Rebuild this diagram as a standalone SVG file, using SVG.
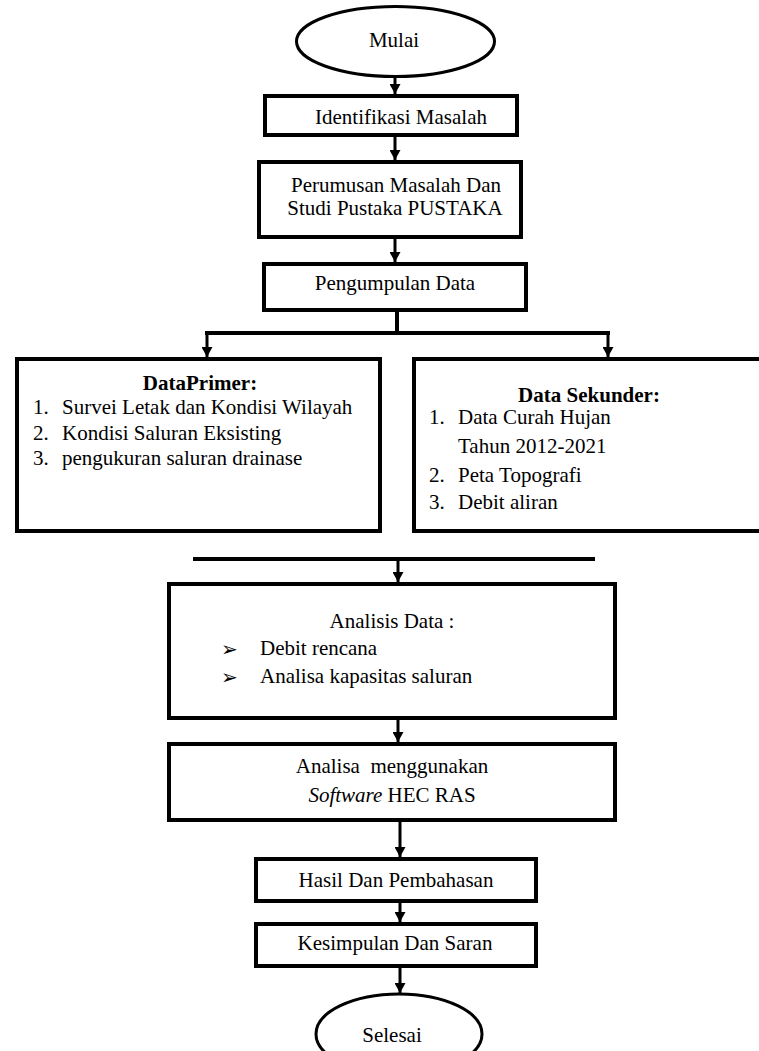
<svg xmlns="http://www.w3.org/2000/svg" width="759" height="1051" viewBox="0 0 759 1051">
<defs>
<marker id="ah" markerUnits="userSpaceOnUse" markerWidth="11" markerHeight="11" refX="10" refY="5.5" orient="auto">
<path d="M0,0 L10,5.5 L0,11 z" fill="#000"/>
</marker>
<style>
.box{fill:#fff;stroke:#000;stroke-width:4}
.ell{fill:#fff;stroke:#000;stroke-width:3}
.t{font-family:"Liberation Serif","Times New Roman",Times,"DejaVu Serif",serif;font-size:21px;font-weight:normal;fill:#000}
.c{text-anchor:middle}
.b{font-weight:bold}
.bl{font-family:"DejaVu Sans",sans-serif;font-size:20px;fill:#000}
.ln{fill:none;stroke:#000;stroke-width:4}
.ar{fill:none;stroke:#000;stroke-width:3;marker-end:url(#ah)}
</style>
</defs>
<rect width="759" height="1051" fill="#fff"/>
<g id="connectors">
<line class="ar" x1="395" y1="78" x2="395" y2="94"/>
<line class="ar" x1="395" y1="137" x2="395" y2="160"/>
<line class="ar" x1="395" y1="239" x2="395" y2="262"/>
<line class="ln" x1="397" y1="312" x2="397" y2="333"/>
<line class="ln" x1="205" y1="333" x2="610" y2="333"/>
<line class="ar" x1="207" y1="333" x2="207" y2="357"/>
<line class="ar" x1="608" y1="333" x2="608" y2="357"/>
<line class="ln" x1="193" y1="559" x2="595" y2="559"/>
<line class="ar" x1="398" y1="559" x2="398" y2="582"/>
<line class="ar" x1="398" y1="720" x2="398" y2="742"/>
<line class="ar" x1="400" y1="822" x2="400" y2="857"/>
<line class="ar" x1="400" y1="903" x2="400" y2="922"/>
<line class="ar" x1="400" y1="968" x2="400" y2="993"/>
</g>
<g id="mulai">
<ellipse class="ell" cx="395.5" cy="41.5" rx="99" ry="35"/>
<text class="t c" x="394" y="47">Mulai</text>
</g>
<g id="identifikasi">
<rect class="box" x="265" y="96" width="252" height="39"/>
<text class="t c" x="401" y="124">Identifikasi Masalah</text>
</g>
<g id="perumusan">
<rect class="box" x="259" y="162" width="262" height="75"/>
<text class="t c" x="396" y="192">Perumusan Masalah Dan</text>
<text class="t c" x="395" y="215">Studi Pustaka PUSTAKA</text>
</g>
<g id="pengumpulan">
<rect class="box" x="264" y="264" width="262" height="46"/>
<text class="t c" x="395" y="290">Pengumpulan Data</text>
</g>
<g id="dataprimer">
<rect class="box" x="17" y="359" width="363" height="172"/>
<text class="t c b" x="200" y="390">DataPrimer:</text>
<text class="t" x="33" y="414">1.</text>
<text class="t" x="62" y="414">Survei Letak dan Kondisi Wilayah</text>
<text class="t" x="33" y="440">2.</text>
<text class="t" x="62" y="440">Kondisi Saluran Eksisting</text>
<text class="t" x="33" y="465">3.</text>
<text class="t" x="62" y="465">pengukuran saluran drainase</text>
</g>
<g id="datasekunder">
<rect class="box" x="414" y="359" width="350" height="172"/>
<text class="t c b" x="589" y="402">Data Sekunder:</text>
<text class="t" x="429" y="424">1.</text>
<text class="t" x="458" y="424">Data Curah Hujan</text>
<text class="t" x="458" y="453">Tahun 2012-2021</text>
<text class="t" x="429" y="482">2.</text>
<text class="t" x="458" y="482">Peta Topografi</text>
<text class="t" x="429" y="509">3.</text>
<text class="t" x="458" y="509">Debit aliran</text>
</g>
<g id="analisis">
<rect class="box" x="169" y="584" width="446" height="134"/>
<text class="t c" x="392" y="628">Analisis Data :</text>
<text class="bl" x="221" y="656">➢</text>
<text class="t" x="260" y="655">Debit rencana</text>
<text class="bl" x="221" y="684">➢</text>
<text class="t" x="260" y="683">Analisa kapasitas saluran</text>
</g>
<g id="hecras">
<rect class="box" x="169" y="744" width="446" height="76"/>
<text class="t c" x="392" y="773" xml:space="preserve">Analisa  menggunakan</text>
<text class="t c" x="392" y="802"><tspan font-style="italic">Software</tspan> HEC RAS</text>
</g>
<g id="hasil">
<rect class="box" x="256" y="859" width="280" height="42"/>
<text class="t c" x="396" y="887">Hasil Dan Pembahasan</text>
</g>
<g id="kesimpulan">
<rect class="box" x="256" y="924" width="280" height="42"/>
<text class="t c" x="395" y="950">Kesimpulan Dan Saran</text>
</g>
<g id="selesai">
<ellipse class="ell" cx="399" cy="1034" rx="83" ry="40"/>
<text class="t c" x="392" y="1042">Selesai</text>
</g>
</svg>
